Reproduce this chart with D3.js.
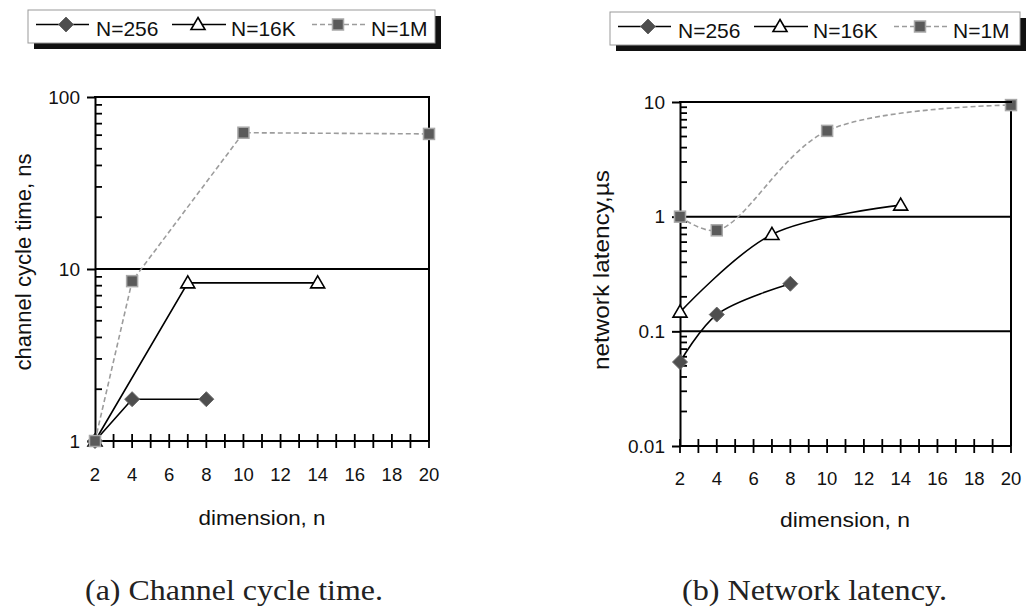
<!DOCTYPE html>
<html><head><meta charset="utf-8">
<script src="https://cdn.jsdelivr.net/npm/d3@7"></script>
<style>body{margin:0;background:#fff}svg{display:block}</style>
</head><body>
<svg id="c" width="1026" height="608"></svg>
<script>
// ---- data ----
const seriesNames = ["N=256", "N=16K", "N=1M"];
const xTickValues = [2,3,4,5,6,7,8,9,10,11,12,13,14,15,16,17,18,19,20];
const xTickLabels = [2,4,6,8,10,12,14,16,18,20];
const dims256 = [2, 4, 8];
const dims16K = [2, 7, 14];
const dims1M  = [2, 4, 10, 20];
const cycle256 = [1, 1.75, 1.75];
const cycle16K = [1, 8.3, 8.3];
const cycle1M  = [1, 8.5, 62, 61];
const latency256 = [0.054, 0.14, 0.26];
const latency16K = [0.147, 0.70, 1.26];
const latency1M  = [1.0, 0.76, 5.6, 9.4];
const cycleTicks = [1, 10, 100];
const cycleTickLabels = ["1", "10", "100"];
const latencyTicks = [0.01, 0.1, 1, 10];
const latencyTickLabels = ["0.01", "0.1", "1", "10"];

// ---- styles ----
const sans = "'Liberation Sans', Arial, Helvetica, sans-serif";
const serif = "'Liberation Serif', 'Times New Roman', serif";
const lineColor = ["#000", "#000", "#9c9c9c"];
const lineDash = [null, null, "5,3"];
const lineWidth = [1.6, 1.6, 1.6];

const svg = d3.select("#c");

function drawMarker(g, kind, cx, cy) {
  if (kind === 0) {
    g.append("path").attr("d", "M0,-7.5L7.5,0L0,7.5L-7.5,0Z")
      .attr("transform", `translate(${cx},${cy})`)
      .attr("fill", "#4e4e4e").attr("stroke", "#6a6a6a").attr("stroke-width", 1);
  } else if (kind === 1) {
    g.append("path").attr("d", "M0,-7L7,5L-7,5Z")
      .attr("transform", `translate(${cx},${cy})`)
      .attr("fill", "#fff").attr("stroke", "#000").attr("stroke-width", 1.6);
  } else {
    g.append("rect").attr("x", cx - 5.5).attr("y", cy - 5.5)
      .attr("width", 11).attr("height", 11)
      .attr("fill", "#5a5a5a").attr("stroke", "#a8a8a8").attr("stroke-width", 1.5);
  }
}

const panels = [
  {
    dims: [dims256, dims16K, dims1M], vals: [cycle256, cycle16K, cycle1M],
    yDomain: [1, 100], xRange: [95, 429], yRange: [441, 97],
    yTicks: cycleTicks, yLabels: cycleTickLabels,
    yTitle: "channel cycle time, ns", yTitlePos: [31, 262], yTitleLen: 217,
    xTitlePos: [262, 525], xTitleLen: 127, xLabelY: 481,
    caption: "(a) Channel cycle time.", capPos: [85, 600], capLen: 298,
    legend: {x: 28, y: 10, w: 407, h: 33}, curve: d3.curveLinear
  },
  {
    dims: [dims256, dims16K, dims1M], vals: [latency256, latency16K, latency1M],
    yDomain: [0.01, 10], xRange: [680, 1011], yRange: [446, 102],
    yTicks: latencyTicks, yLabels: latencyTickLabels,
    yTitle: "network latency,\u00b5s", yTitlePos: [609, 270], yTitleLen: 200,
    xTitlePos: [845, 527], xTitleLen: 130, xLabelY: 485,
    caption: "(b) Network latency.", capPos: [682, 600], capLen: 265,
    legend: {x: 610, y: 12, w: 410, h: 33}, curve: d3.curveCatmullRom.alpha(0.5)
  }
];

panels.forEach(p => {
  const g = svg.append("g");
  const x = d3.scaleLinear().domain([2, 20]).range(p.xRange);
  const y = d3.scaleLog().domain(p.yDomain).range(p.yRange);
  const x0 = x(2), yBottom = y(p.yDomain[0]);

  // gridlines at major decades (except bottom)
  g.selectAll(".grid").data(p.yTicks.slice(1)).join("line")
    .attr("x1", x(2)).attr("x2", x(20))
    .attr("y1", d => y(d)).attr("y2", d => y(d))
    .attr("stroke", "#000").attr("stroke-width", 2);
  // right border
  g.append("line").attr("x1", x(20)).attr("x2", x(20))
    .attr("y1", y(p.yDomain[1])).attr("y2", yBottom)
    .attr("stroke", "#000").attr("stroke-width", 2);

  // y axis major (left, labelled)
  const ya = g.append("g").attr("transform", `translate(${x0},0)`)
    .call(d3.axisLeft(y).tickValues(p.yTicks).tickFormat((d, i) => p.yLabels[i])
      .tickSize(8).tickSizeOuter(0).tickPadding(7));
  ya.select(".domain").attr("stroke", "#000").attr("stroke-width", 2);
  ya.selectAll(".tick line").attr("stroke", "#000").attr("stroke-width", 2);
  ya.selectAll("text").attr("font-family", sans).attr("font-size", 19).attr("fill", "#111");

  // y minor ticks (inside), from the log scale's own ticks
  const minors = y.ticks().filter(v => !p.yTicks.some(t => Math.abs(t - v) / t < 1e-6));
  g.append("g").selectAll("line").data(minors).join("line")
    .attr("x1", x0).attr("x2", x0 + 7)
    .attr("y1", d => y(d)).attr("y2", d => y(d))
    .attr("stroke", "#000").attr("stroke-width", 1.8);

  // x axis with crossing ticks
  g.append("line").attr("x1", x0).attr("x2", x(20))
    .attr("y1", yBottom).attr("y2", yBottom)
    .attr("stroke", "#000").attr("stroke-width", 2);
  g.append("g").selectAll("line").data(xTickValues).join("line")
    .attr("x1", d => x(d)).attr("x2", d => x(d))
    .attr("y1", yBottom - 7).attr("y2", yBottom + 7)
    .attr("stroke", "#000").attr("stroke-width", 1.8);
  // x labels
  g.append("g").selectAll("text").data(xTickLabels).join("text")
    .attr("x", d => x(d)).attr("y", p.xLabelY)
    .attr("text-anchor", "middle").attr("font-family", sans).attr("font-size", 18.5)
    .attr("fill", "#111").text(d => d);

  // series lines
  p.vals.forEach((vals, si) => {
    const pts = vals.map((v, i) => [p.dims[si][i], v]);
    g.append("path").datum(pts)
      .attr("d", d3.line().x(d => x(d[0])).y(d => y(d[1])).curve(p.curve))
      .attr("fill", "none").attr("stroke", lineColor[si])
      .attr("stroke-width", lineWidth[si])
      .attr("stroke-dasharray", lineDash[si]);
  });
  // markers
  p.vals.forEach((vals, si) => {
    vals.forEach((v, i) => drawMarker(g, si, x(p.dims[si][i]), y(v)));
  });

  // top border
  g.append("line").attr("x1", x0 - 1).attr("x2", x(20) + 1)
    .attr("y1", y(p.yDomain[1])).attr("y2", y(p.yDomain[1]))
    .attr("stroke", "#000").attr("stroke-width", 2);

  // titles
  g.append("text")
    .attr("transform", `translate(${p.yTitlePos[0]},${p.yTitlePos[1]}) rotate(-90)`)
    .attr("text-anchor", "middle").attr("font-family", sans).attr("font-size", 22)
    .attr("textLength", p.yTitleLen).attr("lengthAdjust", "spacingAndGlyphs")
    .attr("fill", "#111").text(p.yTitle);
  g.append("text").attr("x", p.xTitlePos[0]).attr("y", p.xTitlePos[1])
    .attr("text-anchor", "middle").attr("font-family", sans).attr("font-size", 21)
    .attr("textLength", p.xTitleLen).attr("lengthAdjust", "spacingAndGlyphs")
    .attr("fill", "#111").text("dimension, n");
  g.append("text").attr("x", p.capPos[0]).attr("y", p.capPos[1])
    .attr("font-family", serif).attr("font-size", 30)
    .attr("textLength", p.capLen).attr("lengthAdjust", "spacingAndGlyphs")
    .attr("fill", "#222").text(p.caption);

  // legend
  const L = p.legend;
  const lg = g.append("g");
  lg.append("rect").attr("x", L.x + 6).attr("y", L.y + 6).attr("width", L.w).attr("height", L.h)
    .attr("fill", "#111");
  lg.append("rect").attr("x", L.x).attr("y", L.y).attr("width", L.w).attr("height", L.h)
    .attr("fill", "#fff").attr("stroke", "#999").attr("stroke-width", 1);
  const itemOff = [[8, 61, 38, 68], [144, 198, 170, 203], [284, 337, 310, 343]];
  seriesNames.forEach((name, si) => {
    const o = itemOff[si];
    const ly = L.y + 14.5;
    lg.append("line").attr("x1", L.x + o[0]).attr("x2", L.x + o[1])
      .attr("y1", ly).attr("y2", ly)
      .attr("stroke", lineColor[si]).attr("stroke-width", 1.6)
      .attr("stroke-dasharray", lineDash[si]);
    drawMarker(lg, si, L.x + o[2], ly);
    lg.append("text").attr("x", L.x + o[3]).attr("y", L.y + 25.5)
      .attr("font-family", sans).attr("font-size", 21).attr("fill", "#111").text(name);
  });
});
</script>
</body></html>
